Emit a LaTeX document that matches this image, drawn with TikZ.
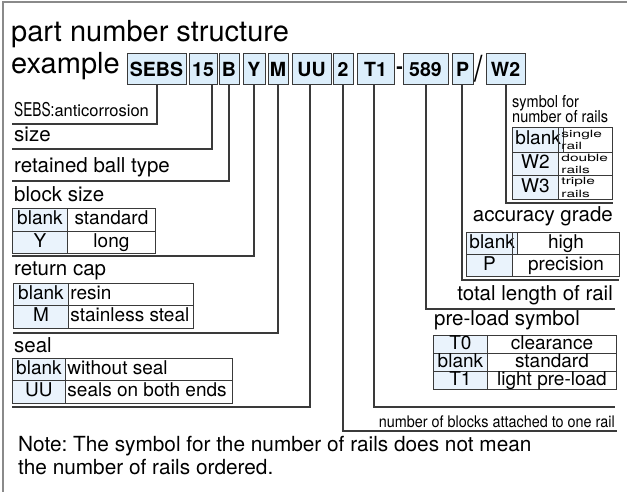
\documentclass[tikz,border=0pt]{standalone}
\usepackage{fontspec}
\usepackage{graphicx}
\setmainfont{TeX Gyre Heros}
\newcommand\fsz[1]{\fontsize{#1}{#1}\selectfont}
\newcommand\cond[2]{\scalebox{#1}[1]{#2}}
\newcommand\lft[2]{\makebox[#1][l]{#2}}
\definecolor{boxblue}{HTML}{DCEEFB}
\definecolor{cellblue}{HTML}{EAF3FC}
\definecolor{ink}{HTML}{3A3A3A}
\definecolor{framegray}{HTML}{8A8A8A}
\tikzset{
  codebox/.style={draw=ink, fill=boxblue, line width=1pt, inner sep=0pt, minimum height=31pt,
    text height=14pt, text depth=0pt, font=\fsz{19.5}\bfseries},
  conn/.style={draw=ink, line width=1.2pt},
  lbl/.style={anchor=base west, inner sep=0pt, font=\fsz{20.5}},
  cellbase/.style={draw=ink, line width=0.9pt, inner xsep=3pt, inner ysep=0pt, anchor=north west},
  cell/.style={cellbase, text height=13.5pt, text depth=3.5pt, font=\fsz{19}},
  keycell/.style={cell, fill=cellblue},
  smallcell/.style={cellbase, align=left, font=\fontsize{10}{12.5}\selectfont},
}
\begin{document}
\frenchspacing
\begin{tikzpicture}[x=1pt, y=-1pt]
\useasboundingbox (0,0) rectangle (627,492);
% frame
\coordinate (fbl) at (3,492);
\coordinate (ftl) at (3,2);
\coordinate (ftr) at (627,2);
\draw[framegray, line width=2pt] (fbl) -- (ftl) -- (ftr);

% title
\node[anchor=base west, inner sep=0pt, font=\fsz{29}] (title) at (11,42) {part number structure};
\node[anchor=base west, inner sep=0pt, font=\fsz{29}] (example) at (11,74) {example};

% code boxes
\node[codebox, minimum width=59pt] (bSEBS) at (156.5,69.5) {SEBS};
\node[codebox, minimum width=28pt] (b15) at (203,69.5) {15};
\node[codebox, minimum width=20pt] (bB) at (229,69.5) {B};
\node[codebox, minimum width=22pt] (bY) at (254,69.5) {Y};
\node[codebox, minimum width=20pt] (bM) at (278,69.5) {M};
\node[codebox, minimum width=39pt] (bUU) at (311.5,69.5) {UU};
\node[codebox, minimum width=20pt] (b2) at (343,69.5) {2};
\node[codebox, minimum width=37pt] (bT1) at (375.5,69.5) {T1};
\node[inner sep=0pt, font=\fsz{19.5}\bfseries] (dash) at (399.5,70) {-};
\node[codebox, minimum width=45pt] (b589) at (425.5,69.5) {589};
\node[codebox, minimum width=21pt] (bP) at (462.5,69.5) {P};
\node[inner sep=0pt, font=\fsz{30}] (slash) at (479,69) {\scalebox{1}[1.2]{/}};
\node[codebox, minimum width=39pt] (bW2) at (505.5,69.5) {W2};

% left labels
\node[lbl] (lsebs) at (14,117) {\cond{0.72}{\fsz{19}SEBS:}\fsz{16.5}anticorrosion};
\node[lbl] (lsize) at (14,142) {size};
\node[lbl] (lball) at (14,173) {retained ball type};
\node[lbl] (lblock) at (14,202) {block size};
\node[lbl] (lcap) at (14,275) {return cap};
\node[lbl] (lseal) at (14,352) {seal};

% block size table
\node[keycell, minimum width=55pt, minimum height=23pt] (bs1k) at (12,208) {blank};
\node[cell, minimum width=88pt, minimum height=23pt] (bs1v) at (67,208) {standard};
\node[keycell, minimum width=55pt, minimum height=22pt] (bs2k) at (12,231) {Y};
\node[cell, minimum width=88pt, minimum height=22pt] (bs2v) at (67,231) {long};

% return cap table
\node[keycell, minimum width=55pt, minimum height=22pt] (rc1k) at (13,283) {blank};
\node[cell, inner xsep=2pt, minimum height=22pt] (rc1v) at (68,283) {\lft{121pt}{resin}};
\node[keycell, minimum width=55pt, minimum height=23pt] (rc2k) at (13,305) {M};
\node[cell, inner xsep=2pt, minimum height=23pt] (rc2v) at (68,305) {\lft{121pt}{stainless steal}};

% seal table
\node[keycell, minimum width=53pt, minimum height=22pt] (sl1k) at (12,358) {blank};
\node[cell, inner xsep=2pt, minimum height=22pt] (sl1v) at (65,358) {\lft{163pt}{without seal}};
\node[keycell, minimum width=53pt, minimum height=23pt] (sl2k) at (12,380) {UU};
\node[cell, inner xsep=2pt, minimum height=23pt] (sl2v) at (65,380) {\lft{163pt}{seals on both ends}};

% rails
\node[anchor=base west, inner sep=0pt, font=\fsz{16.5}] (lsym1) at (512,108) {\cond{0.88}{symbol for}};
\node[anchor=base west, inner sep=0pt, font=\fsz{16.5}] (lsym2) at (512,123) {\cond{0.88}{number of rails}};
\node[keycell, minimum width=46pt, minimum height=25pt] (rl1k) at (512,127) {blank};
\node[smallcell, text width=48pt, minimum height=25pt] (rl1v) at (558,127) {\cond{1.55}{single}\\\cond{1.55}{rail}};
\node[keycell, minimum width=46pt, minimum height=23pt] (rl2k) at (512,152) {W2};
\node[smallcell, text width=48pt, minimum height=23pt] (rl2v) at (558,152) {\cond{1.55}{double}\\\cond{1.55}{rails}};
\node[keycell, minimum width=46pt, minimum height=24pt] (rl3k) at (512,175) {W3};
\node[smallcell, text width=48pt, minimum height=24pt] (rl3v) at (558,175) {\cond{1.55}{triple}\\\cond{1.55}{rails}};

% accuracy
\node[lbl, anchor=base east] (lacc) at (613,222) {accuracy grade};
\node[keycell, minimum width=46pt, minimum height=22pt] (ac1k) at (466,232) {blank};
\node[cell, minimum width=107pt, minimum height=22pt] (ac1v) at (512,232) {high};
\node[keycell, minimum width=46pt, minimum height=22pt] (ac2k) at (466,254) {P};
\node[cell, minimum width=107pt, minimum height=22pt] (ac2v) at (512,254) {precision};

% total length
\node[lbl, anchor=base east] (llen) at (613,300) {total length of rail};

% preload
\node[lbl] (lpre) at (434,325) {pre-load symbol};
\node[keycell, minimum width=54pt, minimum height=18pt] (pl1k) at (433,335) {T0};
\node[cell, minimum width=129pt, minimum height=18pt] (pl1v) at (487,335) {clearance};
\node[keycell, minimum width=54pt, minimum height=18pt] (pl2k) at (433,353) {blank};
\node[cell, minimum width=129pt, minimum height=18pt] (pl2v) at (487,353) {standard};
\node[keycell, minimum width=54pt, minimum height=18pt] (pl3k) at (433,371) {T1};
\node[cell, minimum width=129pt, minimum height=18pt] (pl3v) at (487,371) {light pre-load};

% blocks
\node[anchor=base east, inner sep=0pt, font=\fsz{16}] (lblk) at (615,427) {\cond{0.9}{number of blocks attached to one rail}};

% note
\node[lbl, font=\fsz{20.8}] (note1) at (18,451) {Note: The symbol for the number of rails does not mean};
\node[lbl, font=\fsz{20.8}] (note2) at (18,474) {the number of rails ordered.};

% connectors
\coordinate (kSEBS) at (157,124);  \coordinate (eSEBS) at (12,124);
\coordinate (k15) at (212,149);    \coordinate (e15) at (12,149);
\coordinate (kB) at (229,181);     \coordinate (eB) at (12,181);
\coordinate (kY) at (254,256);     \coordinate (eY) at (12,256);
\coordinate (kM) at (278,333);     \coordinate (eM) at (13,333);
\coordinate (kUU) at (310,407);    \coordinate (eUU) at (12,407);
\coordinate (k2) at (343,431);     \coordinate (e2) at (617,431);
\coordinate (kT1) at (374,407);    \coordinate (eT1) at (615,407);
\coordinate (k589) at (426,309);   \coordinate (e589) at (615,309);
\coordinate (kP) at (462,280);     \coordinate (eP) at (619,280);
\coordinate (kW2) at (506,203);    \coordinate (eW2) at (613,203);
\draw[conn] (bSEBS.south -| kSEBS) -- (kSEBS) -- (eSEBS);
\draw[conn] (b15.south -| k15) -- (k15) -- (e15);
\draw[conn] (bB.south -| kB) -- (kB) -- (eB);
\draw[conn] (bY.south -| kY) -- (kY) -- (eY);
\draw[conn] (bM.south -| kM) -- (kM) -- (eM);
\draw[conn] (bUU.south -| kUU) -- (kUU) -- (eUU);
\draw[conn] (b2.south -| k2) -- (k2) -- (e2);
\draw[conn] (bT1.south -| kT1) -- (kT1) -- (eT1);
\draw[conn] (b589.south -| k589) -- (k589) -- (e589);
\draw[conn] (bP.south -| kP) -- (kP) -- (eP);
\draw[conn] (bW2.south -| kW2) -- (kW2) -- (eW2);
\end{tikzpicture}
\end{document}
